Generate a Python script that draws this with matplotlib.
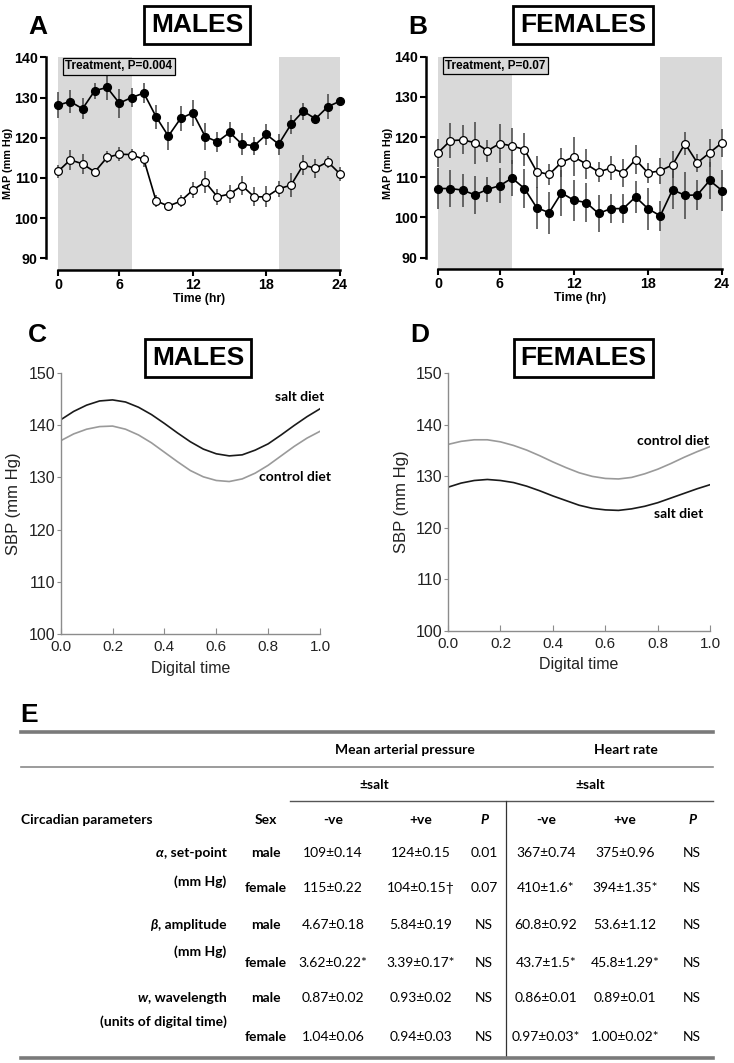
import numpy as np
import matplotlib
matplotlib.use("Agg")
import matplotlib.pyplot as plt
from matplotlib.lines import Line2D

# ---- panel A / B : hourly MAP (mean +/- sem), 24 points ----
hour_ticks = [0, 5, 11, 17, 23]
hour_labels = ['0', '6', '12', '18', '24']
dark_spans = [(0, 6), (18, 23)]

male_salt = [128.1, 129.0, 127.2, 131.7, 132.5, 128.6, 130.0, 131.1, 125.2, 120.4, 124.8, 126.2,
             120.3, 119.0, 121.3, 118.4, 118.0, 120.8, 118.4, 123.3, 126.6, 124.7, 127.7, 129.1]
male_salt_err = [3.3, 2.9, 2.6, 2.0, 3.2, 3.6, 2.4, 2.4, 3.0, 3.5, 3.2, 3.3,
                 3.3, 2.5, 2.6, 2.7, 2.3, 2.6, 2.6, 2.3, 2.1, 1.3, 3.1, 1.0]
male_ctrl = [111.6, 114.5, 113.5, 111.5, 115.1, 115.9, 115.8, 114.6, 104.3, 103.0, 104.2, 107.0,
             109.0, 105.3, 106.0, 108.1, 105.3, 105.3, 107.3, 108.2, 113.2, 112.4, 114.0, 111.0]
male_ctrl_err = [1.5, 2.5, 2.4, 1.0, 1.5, 1.8, 1.5, 1.9, 1.5, 1.0, 1.5, 2.0,
                 2.7, 2.0, 2.3, 2.3, 2.4, 2.6, 2.0, 3.0, 2.5, 2.4, 1.5, 1.8]

female_salt = [107.2, 107.2, 106.8, 105.6, 107.0, 107.9, 109.8, 107.2, 102.4, 101.2, 106.1, 104.3,
               103.7, 101.0, 102.2, 102.2, 105.1, 102.2, 100.4, 106.9, 105.5, 105.6, 109.2, 106.7]
female_salt_err = [5.2, 4.6, 4.1, 4.8, 3.1, 4.4, 4.5, 4.8, 5.2, 5.2, 5.8, 5.1,
                   4.8, 4.6, 3.7, 3.7, 3.9, 5.2, 3.7, 4.9, 5.8, 3.7, 4.6, 5.2]
female_ctrl = [116.1, 119.1, 119.3, 118.6, 116.6, 118.4, 117.8, 116.9, 111.4, 110.7, 113.7, 115.1,
               113.3, 111.3, 112.3, 111.1, 114.4, 111.1, 111.6, 113.1, 118.4, 113.6, 116.1, 118.6]
female_ctrl_err = [3.5, 4.4, 3.6, 5.2, 2.7, 4.8, 4.4, 4.0, 4.0, 2.5, 3.7, 4.8,
                   3.8, 2.5, 3.1, 3.5, 3.7, 2.5, 3.3, 3.4, 2.9, 2.3, 3.5, 3.5]

# ---- panel C / D : fitted SBP curves over digital time ----
digital_time = [0.00, 0.05, 0.10, 0.15, 0.20, 0.25, 0.30, 0.35, 0.40, 0.45, 0.50,
                0.55, 0.60, 0.65, 0.70, 0.75, 0.80, 0.85, 0.90, 0.95, 1.00]
male_salt_sbp = [141.0, 142.6, 143.8, 144.6, 144.8, 144.4, 143.4, 142.0, 140.3, 138.5, 136.8,
                 135.4, 134.5, 134.1, 134.3, 135.2, 136.4, 138.1, 139.9, 141.6, 143.1]
male_ctrl_sbp = [137.0, 138.3, 139.2, 139.7, 139.8, 139.2, 138.1, 136.6, 134.8, 133.0, 131.3,
                 130.1, 129.4, 129.2, 129.7, 130.8, 132.3, 134.1, 135.9, 137.5, 138.8]
female_ctrl_sbp = [136.2, 136.8, 137.1, 137.1, 136.7, 136.0, 135.1, 134.0, 132.8, 131.7, 130.7,
                   130.0, 129.6, 129.5, 129.8, 130.5, 131.4, 132.5, 133.7, 134.8, 135.8]
female_salt_sbp = [127.9, 128.7, 129.2, 129.4, 129.2, 128.8, 128.1, 127.2, 126.2, 125.3, 124.4,
                   123.8, 123.5, 123.4, 123.7, 124.2, 124.9, 125.8, 126.7, 127.6, 128.4]

# ---- panel E : table ----
param_symbol = ['α', 'β', 'w']
param_name = [', set-point', ', amplitude', ', wavelength']
param_unit = ['(mm Hg)', '(mm Hg)', '(units of digital time)']
sex = ['male', 'female']
map_neg = ['109±0.14', '115±0.22', '4.67±0.18', '3.62±0.22*', '0.87±0.02', '1.04±0.06']
map_pos = ['124±0.15', '104±0.15†', '5.84±0.19', '3.39±0.17*', '0.93±0.02', '0.94±0.03']
map_p = ['0.01', '0.07', 'NS', 'NS', 'NS', 'NS']
hr_neg = ['367±0.74', '410±1.6*', '60.8±0.92', '43.7±1.5*', '0.86±0.01', '0.97±0.03*']
hr_pos = ['375±0.96', '394±1.35*', '53.6±1.12', '45.8±1.29*', '0.89±0.01', '1.00±0.02*']
hr_p = ['NS', 'NS', 'NS', 'NS', 'NS', 'NS']

W, H = 734, 1063
SANS = 'Liberation Sans'
TAB = 'Lato'
fig = plt.figure(figsize=(W / 100, H / 100), dpi=100)


def px_axes(left, top, right, bottom):
    return fig.add_axes([left / W, 1 - bottom / H, (right - left) / W, (bottom - top) / H])


def boxed_title(x, y, s):
    fig.text(x / W, 1 - y / H, s, ha='center', va='center', family=SANS,
             fontsize=19, fontweight='bold',
             bbox=dict(boxstyle='square,pad=0.25', fc='white', ec='black', lw=2.0))


def panel_letter(x, y, s):
    fig.text(x / W, 1 - y / H, s, ha='left', va='center', family=SANS,
             fontsize=19, fontweight='bold')


def map_panel(rect, salt, salt_err, ctrl, ctrl_err, ptext):
    ax = px_axes(*rect)
    x = np.arange(len(salt))
    for a, b in dark_spans:
        ax.axvspan(a, b, color='#d9d9d9', lw=0, zorder=0)
    ax.errorbar(x, salt, yerr=salt_err, fmt='none', ecolor='#444444', elinewidth=1.1, zorder=2, clip_on=False)
    ax.errorbar(x, ctrl, yerr=ctrl_err, fmt='none', ecolor='#444444', elinewidth=1.1, zorder=2, clip_on=False)
    ax.plot(x, salt, '-o', color='black', ms=5.6, lw=1.2, zorder=3, clip_on=False)
    ax.plot(x, ctrl, '-o', color='black', mfc='white', mec='black', mew=0.9, ms=5.6, lw=1.2,
            zorder=3, clip_on=False)
    ax.set_xlim(0, 23)
    ax.set_ylim(87.1, 140)
    for side in ['top', 'right']:
        ax.spines[side].set_visible(False)
    ax.spines['left'].set_position(('outward', 9))
    ax.spines['left'].set_bounds(90, 140)
    ax.spines['bottom'].set_bounds(0, 23)
    for side in ['left', 'bottom']:
        ax.spines[side].set_linewidth(1.8)
    ax.set_yticks([90, 100, 110, 120, 130, 140])
    ax.set_xticks(hour_ticks)
    ax.set_xticklabels(hour_labels)
    ax.tick_params(width=1.5, length=4, labelsize=10.3, pad=1.5)
    for lab in ax.get_xticklabels() + ax.get_yticklabels():
        lab.set_fontweight('bold')
        lab.set_family(SANS)
    ax.set_xlabel('Time (hr)', fontsize=8.8, fontweight='bold', family=SANS, labelpad=1)
    ax.set_ylabel('MAP (mm Hg)', fontsize=7.8, fontweight='bold', family=SANS, labelpad=1)
    ax.text(0.6, 139.3, ptext, ha='left', va='top', fontsize=8.5, fontweight='bold', family=SANS,
            bbox=dict(boxstyle='square,pad=0.22', fc='#d9d9d9', ec='black', lw=0.9), zorder=5)
    return ax


def sbp_panel(rect, top_curve, top_label, bot_curve, bot_label, top_col, bot_col, top_xy, bot_xy):
    ax = px_axes(*rect)
    ax.plot(digital_time, top_curve, color=top_col, lw=1.2)
    ax.plot(digital_time, bot_curve, color=bot_col, lw=1.2)
    ax.set_xlim(0, 1)
    ax.set_ylim(100, 150)
    for side in ['top', 'right']:
        ax.spines[side].set_visible(False)
    for side in ['left', 'bottom']:
        ax.spines[side].set_color('#8c8c8c')
        ax.spines[side].set_linewidth(1.0)
    ax.set_xticks([0, 0.2, 0.4, 0.6, 0.8, 1.0])
    ax.set_xticklabels(['0.0', '0.2', '0.4', '0.6', '0.8', '1.0'])
    ax.set_yticks([100, 110, 120, 130, 140, 150])
    ax.tick_params(axis='x', direction='in', length=4, color='#8c8c8c', labelsize=11, pad=4)
    ax.tick_params(axis='y', direction='out', length=3, color='#8c8c8c', labelsize=11.5, pad=1)
    for lab in ax.get_xticklabels() + ax.get_yticklabels():
        lab.set_family(SANS)
        lab.set_color('#222222')
    ax.set_xlabel('Digital time', fontsize=11.5, family=SANS, color='#222222', labelpad=5)
    ax.set_ylabel('SBP (mm Hg)', fontsize=12, family=SANS, color='#222222', labelpad=5)
    fig.text(top_xy[0] / W, 1 - top_xy[1] / H, top_label, ha='center', va='center',
             fontsize=10, fontweight='bold', family=TAB)
    fig.text(bot_xy[0] / W, 1 - bot_xy[1] / H, bot_label, ha='center', va='center',
             fontsize=10, fontweight='bold', family=TAB)
    return ax


# ---- A / B ----
panel_letter(28, 27, 'A')
boxed_title(197, 25, 'MALES')
map_panel((58, 57.3, 340, 270), male_salt, male_salt_err, male_ctrl, male_ctrl_err, 'Treatment, P=0.004')

panel_letter(408, 27, 'B')
boxed_title(583, 25, 'FEMALES')
map_panel((438, 56.7, 722, 269.3), female_salt, female_salt_err, female_ctrl, female_ctrl_err,
          'Treatment, P=0.07')

# ---- C / D ----
panel_letter(28, 335, 'C')
boxed_title(198, 358, 'MALES')
sbp_panel((60.7, 372.7, 320, 634.3), male_salt_sbp, 'salt diet', male_ctrl_sbp, 'control diet',
          '#1a1a1a', '#9a9a9a', (300, 397), (295, 477))

panel_letter(410, 335, 'D')
boxed_title(583.5, 358, 'FEMALES')
sbp_panel((448, 373.3, 710.3, 631), female_ctrl_sbp, 'control diet', female_salt_sbp, 'salt diet',
          '#9a9a9a', '#1a1a1a', (673, 441), (679, 514))

# ---- E : table ----
ov = fig.add_axes([0, 0, 1, 1], zorder=-1)
ov.set_xlim(0, W)
ov.set_ylim(H, 0)
ov.axis('off')

ov.text(20, 715, 'E', ha='left', va='center', family=SANS, fontsize=19, fontweight='bold')

tab_left, tab_right = 21, 713
ov.add_line(Line2D([tab_left, tab_right], [731.5, 731.5], color='#7a7a7a', lw=2.6))
ov.add_line(Line2D([tab_left, tab_right], [766.7, 766.7], color='#8a8a8a', lw=1.2))
ov.add_line(Line2D([290, tab_right], [801, 801], color='#555555', lw=1.0))
ov.add_line(Line2D([506, 506], [801, 1057], color='#333333', lw=0.9))
ov.add_line(Line2D([tab_left, tab_right], [1057.5, 1057.5], color='#7a7a7a', lw=2.6))

col_x = {'sex': 266, 'mneg': 333, 'mpos': 421, 'mp': 484, 'hneg': 546, 'hpos': 625, 'hp': 692}
tk = dict(family=TAB, fontsize=10, va='center')
ov.text(405, 750, 'Mean arterial pressure', ha='center', fontweight='bold', **tk)
ov.text(626, 750, 'Heart rate', ha='center', fontweight='bold', **tk)
ov.text(374, 785, '±salt', ha='center', fontweight='bold', **tk)
ov.text(590, 785, '±salt', ha='center', fontweight='bold', **tk)

hy = 820
ov.text(tab_left, hy, 'Circadian parameters', ha='left', fontweight='bold', **tk)
ov.text(col_x['sex'], hy, 'Sex', ha='center', fontweight='bold', **tk)
for key, lab in [('mneg', '-ve'), ('mpos', '+ve'), ('hneg', '-ve'), ('hpos', '+ve')]:
    ov.text(col_x[key], hy, lab, ha='center', fontweight='bold', **tk)
for key in ['mp', 'hp']:
    ov.text(col_x[key], hy, 'P', ha='center', fontweight='bold', style='italic', **tk)

male_y = [853, 925, 998]
female_y = [888, 963, 1037]
unit_y = [882, 952, 1022]
name_right = 226.5

fig.canvas.draw()
renderer = fig.canvas.get_renderer()
inv = ov.transData.inverted()
for i in range(3):
    t = ov.text(name_right, male_y[i], param_name[i], ha='right', fontweight='bold', **tk)
    bb = t.get_window_extent(renderer)
    x0 = inv.transform((bb.x0, bb.y0))[0]
    ov.text(x0, male_y[i], param_symbol[i], ha='right', fontweight='bold', style='italic',
            family=[TAB, 'DejaVu Sans'], fontsize=10, va='center')
    ov.text(name_right, unit_y[i], param_unit[i], ha='right', fontweight='bold', **tk)
    for j, yy in enumerate([male_y[i], female_y[i]]):
        k = 2 * i + j
        ov.text(col_x['sex'], yy, sex[j], ha='center', fontweight='bold', **tk)
        ov.text(col_x['mneg'], yy, map_neg[k], ha='center', **tk)
        ov.text(col_x['mpos'], yy, map_pos[k], ha='center', **tk)
        ov.text(col_x['mp'], yy, map_p[k], ha='center', **tk)
        ov.text(col_x['hneg'], yy, hr_neg[k], ha='center', **tk)
        ov.text(col_x['hpos'], yy, hr_pos[k], ha='center', **tk)
        ov.text(col_x['hp'], yy, hr_p[k], ha='center', **tk)

fig.savefig('out.png', dpi=100)
